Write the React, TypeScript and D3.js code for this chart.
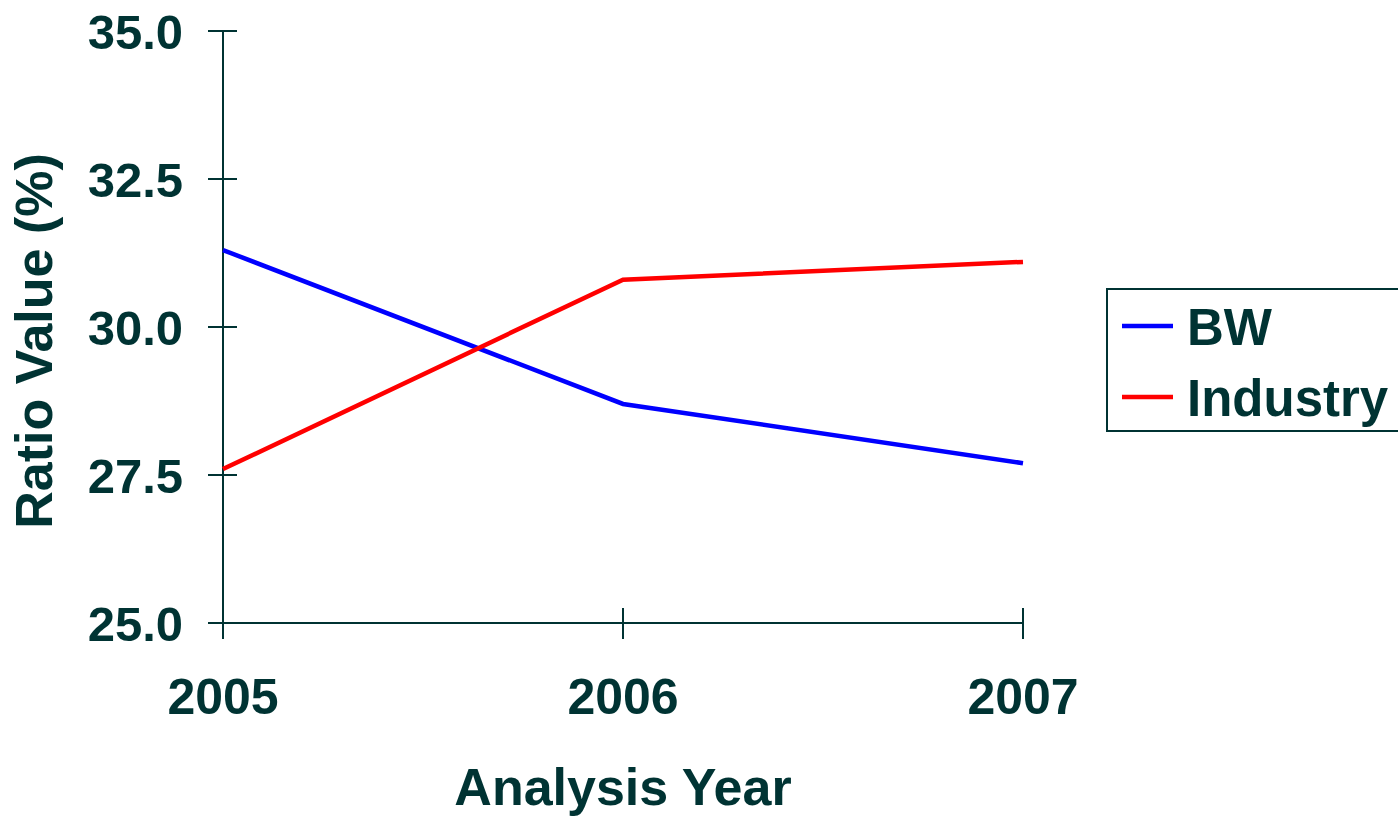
import React from "react";
import * as d3 from "d3";

const years = [2005, 2006, 2007];
const bwValues = [31.3, 28.7, 27.7];
const industryValues = [27.6, 30.8, 31.1];
const yTicks = [25.0, 27.5, 30.0, 32.5, 35.0];
const seriesNames = ["BW", "Industry"];
const seriesColors = ["#0000ff", "#ff0000"];

const INK = "#003333";
const FONT = "'Liberation Sans', Arial, Helvetica, sans-serif";

export default function App() {
  const W = 1398, H = 816;
  const x = d3.scalePoint<number>().domain(years).range([223, 1023]);
  const y = d3.scaleLinear().domain([25, 35]).range([623, 31]);
  const line = d3
    .line<[number, number]>()
    .x((d) => x(d[0])!)
    .y((d) => y(d[1]));
  const series = [bwValues, industryValues];

  return (
    <svg
      width={W}
      height={H}
      style={{ position: "absolute", left: 0, top: 0, background: "#fff" }}
      fontFamily={FONT}
    >
      {/* y axis */}
      <line x1={223} x2={223} y1={y(35)} y2={y(25)} stroke={INK} strokeWidth={2} />
      {yTicks.map((t) => (
        <g key={t}>
          <line x1={208} x2={237} y1={y(t)} y2={y(t)} stroke={INK} strokeWidth={2} />
          <text
            x={183}
            y={y(t)}
            dy="0.36em"
            textAnchor="end"
            fontSize={49}
            fontWeight="bold"
            fill={INK}
          >
            {t.toFixed(1)}
          </text>
        </g>
      ))}
      {/* x axis */}
      <line x1={x(2005)!} x2={x(2007)!} y1={623} y2={623} stroke={INK} strokeWidth={2} />
      {years.map((yr) => (
        <g key={yr}>
          <line x1={x(yr)!} x2={x(yr)!} y1={608} y2={639} stroke={INK} strokeWidth={2} />
          <text
            x={x(yr)!}
            y={714}
            textAnchor="middle"
            fontSize={50}
            fontWeight="bold"
            fill={INK}
          >
            {yr}
          </text>
        </g>
      ))}
      {/* axis titles */}
      <text x={623} y={805} textAnchor="middle" fontSize={52} fontWeight="bold" fill={INK}>
        Analysis Year
      </text>
      <text
        transform={`translate(52,341) rotate(-90)`}
        textAnchor="middle"
        fontSize={52}
        fontWeight="bold"
        fill={INK}
      >
        Ratio Value (%)
      </text>
      {/* series */}
      {series.map((vals, i) => (
        <path
          key={i}
          d={line(years.map((yr, j) => [yr, vals[j]] as [number, number]))!}
          fill="none"
          stroke={seriesColors[i]}
          strokeWidth={4.5}
        />
      ))}
      {/* legend */}
      <rect x={1107} y={289} width={300} height={142} fill="#fff" stroke={INK} strokeWidth={2} />
      {seriesNames.map((n, i) => (
        <g key={n}>
          <line
            x1={1122}
            x2={1173}
            y1={326 + i * 71}
            y2={326 + i * 71}
            stroke={seriesColors[i]}
            strokeWidth={4.5}
          />
          <text x={1187} y={345 + i * 71} fontSize={51} fontWeight="bold" fill={INK}>
            {n}
          </text>
        </g>
      ))}
    </svg>
  );
}
